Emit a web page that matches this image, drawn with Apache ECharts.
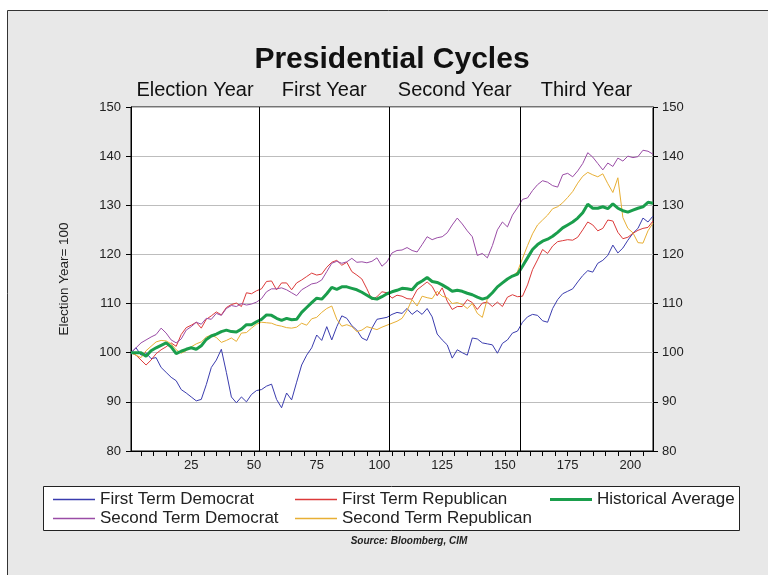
<!DOCTYPE html>
<html>
<head>
<meta charset="utf-8">
<script src="https://cdn.jsdelivr.net/npm/echarts@6/dist/echarts.min.js"></script>
<style>
  html, body { margin: 0; padding: 0; background: #fff; }
  #chart { width: 768px; height: 575px; }
</style>
</head>
<body>
<div id="chart"></div>
<script>
// weeks since election (every second week)
var weeks = [];
for (var w = 1; w <= 209; w += 2) weeks.push(w);

var firstTermDem = [
  100, 101, 99.5, 100, 98.8, 99, 97, 96, 95, 94.3,
  92.5, 91.8, 91, 90.2, 90.5, 93.5, 97, 98.5, 100.7, 96,
  91, 89.8, 91, 90, 91.5, 92.3, 92.5, 93.2, 93.6, 90.5,
  88.8, 91.8, 90.4, 94, 97.5, 99.5, 101, 103.6, 102.5, 105.3,
  102.6, 105.3, 107.5, 107, 105.5, 104.6, 103, 102.5, 105, 106.8,
  107, 107.2, 107.8, 108.2, 108, 109, 107.8, 108.6, 107.8, 109,
  107.3, 103.8, 102.6, 101.6, 98.9, 100.6, 100, 99.5, 103, 102.8,
  102, 101.8, 101.6, 99.9, 101.9, 102.6, 104, 104.4, 106.2, 107.3,
  107.8, 107.6, 106.5, 106.2, 109, 110.8, 112, 112.5, 113, 114.4,
  115.7, 116.7, 116.4, 118.2, 118.8, 119.8, 121.9, 120.3, 121.3, 122.9,
  124.3, 125.3, 127.4, 126.6, 127.8
];
var firstTermRep = [
  100, 99.5, 98.5, 97.5, 98.5, 99.8, 100.6, 101.2, 102, 101.3,
  103.7, 105.1, 105.6, 106.2, 105, 106.8, 107.5, 108.3, 107.7, 109.2,
  109.8, 110.1, 109.4, 112.2, 112, 112.6, 113, 114.5, 114.6, 112.8,
  114.2, 114.2, 112.8, 114.2, 114.8, 115.5, 116.2, 115.8, 116, 117.4,
  118.4, 118.8, 117.8, 118.4, 116.5, 115.8, 115, 113, 110.8, 111.4,
  112.4, 112.2, 111.1, 111.7, 111.5, 111, 110.9, 112.8, 113.6, 114.4,
  113.5, 111.6, 113.2, 110.5, 108.8, 109.4, 109.4, 110.8, 110.2, 108.8,
  110.1, 110.3, 109.4, 110.3, 109.4, 111.3, 111.8, 111.4, 111.5, 113.8,
  116.9, 118.9, 121, 120.2, 121.7, 122.6, 122.8, 123, 122.9, 123.5,
  125, 126.6, 126, 124.8, 125.3, 127, 126.8, 124.5, 123.2, 123.5,
  124.3, 124.9, 125.3, 125.5, 126.8
];
var secondTermDem = [
  100, 101, 102, 102.6, 103.2, 103.7, 105, 104, 102.6, 102,
  102.8, 104.6, 105.3, 106.2, 105.8, 107, 106.8, 108, 107.6, 109,
  109.6, 109.4, 110, 109.7, 109.9, 110.3, 111, 112.4, 113, 113,
  113.2, 112.8, 112.2, 111.6, 112.8, 113.4, 114, 114.2, 114.8, 116.5,
  118.2, 118.6, 118.2, 118.5, 119.2, 118.4, 118.5, 118.3, 118.6, 119.3,
  117.6, 118.5, 120.3, 120.8, 120.9, 121.4, 120.8, 120.5, 122, 123.6,
  123, 123.4, 123.6, 124.4, 126, 127.4, 126.2, 124.8, 123.6, 119.8,
  120.2, 119.3, 121.8, 125, 126.6, 125.6, 128, 129.5, 131.2, 131.5,
  133, 134.2, 135, 134.7, 134, 133.7, 136.2, 136.5, 135.8, 137,
  138.5, 140.7, 139.8, 138.5, 137.2, 138.6, 137.9, 139.6, 139, 140,
  139.7, 139.9, 141.2, 141, 140.4
];
var secondTermRep = [
  100, 99.5, 99, 100.4, 101.3, 102.2, 102.5, 102.4, 101.8, 100.6,
  99.9, 100.4, 101.2, 101.8, 102.2, 103.2, 103.6, 103.1, 102.1, 102.5,
  103, 102.3, 104, 104.1, 105, 105.8, 106.2, 106.1, 106, 105.6,
  105.4, 105.1, 105, 105.2, 106, 105.6, 106.9, 107.2, 108.2, 109,
  109.5, 106.8, 105.4, 105.7, 105.3, 104.3, 104.6, 105.3, 105, 104.7,
  105.2, 105.6, 106, 106.4, 107, 108.6, 110.8, 109.5, 111.5, 111.2,
  111, 112.5, 111.5, 111.2, 110, 110.2, 109.8, 109, 110, 108,
  107.2, 111, 112.2, 113.4, 114.2, 114.8, 115.6, 116.5, 119.2, 121.8,
  124.2, 126, 127, 128, 129.3, 129.7, 130.5, 131.6, 132.8, 134.5,
  135.9, 136.7, 136.2, 135.8, 136.4, 134.4, 132.6, 135.6, 127.5, 125.3,
  124.4, 122.4, 122.3, 124.8, 126.4
];
var historicalAvg = [
  100, 100, 100, 99.3, 100.4, 101, 101.5, 102, 101.2, 99.8,
  100.3, 100.7, 101, 100.7, 101.4, 102.7, 103.4, 103.8, 104.3, 104.6,
  104.3, 104.2, 104.8, 105.7, 105.7, 106.3, 106.8, 107.7, 107.6, 107,
  106.6, 107, 106.7, 106.8, 108.2, 109.2, 110.2, 111.1, 110.9, 112,
  113.3, 112.9, 113.4, 113.4, 113.1, 112.8, 112.3, 111.7, 111.1, 110.9,
  111.4, 112, 112.4, 112.7, 113.1, 113, 112.8, 114, 114.6, 115.3,
  114.5, 114.3, 113.8, 113.2, 112.5, 112.7, 112.5, 112.1, 111.8, 111.3,
  110.9, 111.2, 112.2, 113.4, 114.2, 115, 115.6, 116, 117.6, 119.3,
  121, 122, 122.7, 123.1, 123.7, 124.5, 125.4, 126, 126.6, 127.4,
  128.5, 130.2, 129.4, 129.4, 129.7, 129.3, 130.3, 129.4, 128.9, 128.6,
  129, 129.4, 129.7, 130.6, 130.4
];

var yearNames = ['Election Year', 'First Year', 'Second Year', 'Third Year'];
var yearBreaks = [1, 52, 104, 156, 209];
var tickWeeks = [5, 10, 15, 20, 25, 30, 35, 40, 45, 50, 55, 60, 65, 70, 75, 80, 85, 90, 95, 100,
  105, 110, 115, 120, 125, 130, 135, 140, 145, 150, 155, 160, 165, 170, 175, 180, 185, 190, 195, 200, 205];
var labelWeeks = [25, 50, 75, 100, 125, 150, 175, 200];

var FONT = '"Liberation Sans", Arial, sans-serif';

function pairs(vals) {
  return weeks.map(function (w, i) { return [w, vals[i]]; });
}

var myChart = echarts.init(document.getElementById('chart'));

var areas = [];
for (var i = 0; i < yearNames.length; i++) {
  areas.push([{ xAxis: yearBreaks[i], name: yearNames[i] }, { xAxis: yearBreaks[i + 1] }]);
}

var thin = function (name, color, vals) {
  return {
    name: name, type: 'line', data: pairs(vals), symbol: 'none', smooth: false,
    lineStyle: { color: color, width: 1 }, itemStyle: { color: color }, z: 3
  };
};

var series = [
  thin('First Term Democrat', '#3a3cae', firstTermDem),
  thin('First Term Republican', '#dc3a3a', firstTermRep),
  thin('Second Term Democrat', '#9a4ca6', secondTermDem),
  thin('Second Term Republican', '#e8af34', secondTermRep),
  {
    name: 'Historical Average', type: 'line', data: pairs(historicalAvg), symbol: 'none',
    lineStyle: { color: '#1a9e4c', width: 3 }, itemStyle: { color: '#1a9e4c' }, z: 4
  }
];
// year separators and labels
series[0].markLine = {
  silent: true, symbol: 'none', label: { show: false },
  lineStyle: { color: '#000', width: 1, type: 'solid' },
  data: [{ xAxis: 52 }, { xAxis: 104 }, { xAxis: 156 }]
};
series[0].markArea = {
  silent: true,
  itemStyle: { color: 'rgba(0,0,0,0)' },
  label: { show: true, position: 'top', distance: 7, color: '#111', fontSize: 20, fontFamily: FONT },
  data: areas
};

function legendAt(left, names, h) {
  return {
    orient: 'vertical', left: left, top: 486, icon: 'rect',
    itemWidth: 42, itemHeight: h, itemGap: 2,
    textStyle: { fontSize: 17, color: '#222', fontFamily: FONT },
    selectedMode: false, data: names
  };
}

option = {
  backgroundColor: '#fff',
  animation: false,
  title: {
    text: 'Presidential Cycles', left: 387, top: 40, textAlign: 'center',
    textStyle: { fontSize: 30, fontWeight: 'bold', color: '#111', fontFamily: FONT }
  },
  graphic: [
    { type: 'rect', z: -10, shape: { x: 7.5, y: 10.5, width: 800, height: 600 },
      style: { fill: '#e8e8e8', stroke: '#333', lineWidth: 1 } },
    { type: 'rect', z: -5, shape: { x: 43.5, y: 486.5, width: 696, height: 44 },
      style: { fill: '#fff', stroke: '#222', lineWidth: 1 } },
    { type: 'text', z: 5, x: 409, y: 541,
      style: { text: 'Source: Bloomberg, CIM', fill: '#222', align: 'center', verticalAlign: 'middle',
        font: 'italic bold 10px ' + FONT } }
  ],
  legend: [
    legendAt(48, ['First Term Democrat', 'Second Term Democrat'], 1.5),
    legendAt(290, ['First Term Republican', 'Second Term Republican'], 1.5),
    legendAt(545, ['Historical Average'], 3)
  ],
  grid: {
    left: 131, right: 115, top: 107, bottom: 124,
    show: true, backgroundColor: '#fff', borderColor: '#000', borderWidth: 1
  },
  xAxis: {
    type: 'value', min: 1, max: 209,
    axisLine: { show: true, lineStyle: { color: '#000' } },
    axisTick: { show: true, customValues: tickWeeks, length: 5, lineStyle: { color: '#000' } },
    axisLabel: { customValues: labelWeeks, color: '#222', fontSize: 13, margin: 8, fontFamily: FONT },
    splitLine: { show: false }
  },
  yAxis: [
    {
      type: 'value', min: 80, max: 150, interval: 10, position: 'left',
      name: 'Election Year= 100', nameLocation: 'middle', nameGap: 60,
      nameTextStyle: { fontSize: 13.5, color: '#222', fontFamily: FONT },
      axisLine: { show: true, lineStyle: { color: '#000' } },
      axisTick: { show: true, length: 5, lineStyle: { color: '#000' } },
      axisLabel: { color: '#222', fontSize: 13, margin: 10, fontFamily: FONT },
      splitLine: { show: true, lineStyle: { color: '#bdbdbd', width: 1 } }
    },
    {
      type: 'value', min: 80, max: 150, interval: 10, position: 'right',
      axisLine: { show: true, lineStyle: { color: '#000' } },
      axisTick: { show: true, length: 5, lineStyle: { color: '#000' } },
      axisLabel: { color: '#222', fontSize: 13, margin: 9, fontFamily: FONT },
      splitLine: { show: false }
    }
  ],
  series: series
};

myChart.setOption(option);
</script>
</body>
</html>
